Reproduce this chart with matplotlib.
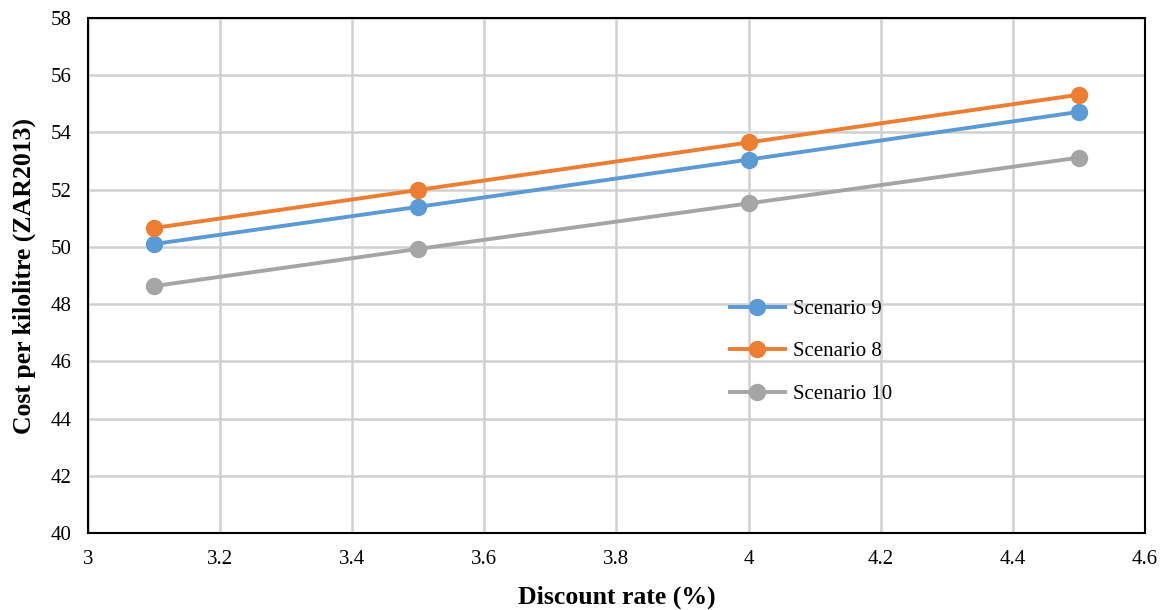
import matplotlib as mpl

mpl.use('agg')

import matplotlib.pyplot as plt

plt.rc('font', family='Liberation Serif')

rate = [3.1, 3.5, 4.0, 4.5]
scenario_9 = [50.10, 51.40, 53.05, 54.72]
scenario_8 = [50.66, 51.99, 53.65, 55.32]
scenario_10 = [48.63, 49.93, 51.52, 53.12]

x_ticks = [3, 3.2, 3.4, 3.6, 3.8, 4, 4.2, 4.4, 4.6]
x_tick_labels = ['3', '3.2', '3.4', '3.6', '3.8', '4', '4.2', '4.4', '4.6']

fig = plt.figure(figsize=(11.65, 6.1), dpi=100)
ax = fig.add_axes([0.0755, 0.1262, 0.9073, 0.8443])

ax.plot(rate, scenario_9, color='#5B9BD5', lw=2.8, marker='o', ms=11.5,
        label='Scenario 9', zorder=3)
ax.plot(rate, scenario_8, color='#ED7D31', lw=2.8, marker='o', ms=11.5,
        label='Scenario 8', zorder=3)
ax.plot(rate, scenario_10, color='#A5A5A5', lw=2.8, marker='o', ms=11.5,
        label='Scenario 10', zorder=3)

ax.set_xlim(3, 4.6)
ax.set_ylim(40, 58)
ax.set_xticks(x_ticks)
ax.set_xticklabels(x_tick_labels)
ax.set_yticks(range(40, 59, 2))
ax.tick_params(length=0, labelsize=15, pad=12)
ax.grid(True, color='#D0D0D0', lw=1.8, zorder=0)
ax.set_axisbelow(True)
for s in ax.spines.values():
    s.set_color('black')
    s.set_linewidth(1.5)

ax.set_xlabel('Discount rate (%)', fontsize=18.5, fontweight='bold', labelpad=12)
ax.set_ylabel('Cost per kilolitre (ZAR2013)', fontsize=18.5, fontweight='bold', labelpad=10)

ax.legend(loc='upper left', bbox_to_anchor=(0.59, 0.49), frameon=False,
          fontsize=15, handlelength=2.6, labelspacing=1.1, handletextpad=0.4)

fig.savefig('out.png', dpi=100)
